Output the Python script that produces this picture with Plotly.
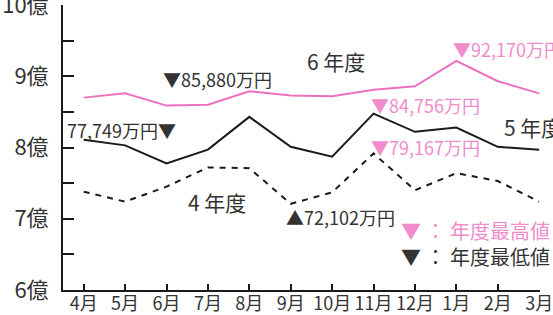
import plotly.graph_objects as go

months = ["4月", "5月", "6月", "7月", "8月", "9月", "10月", "11月", "12月", "1月", "2月", "3月"]
fy6 = [8.70, 8.76, 8.588, 8.60, 8.79, 8.73, 8.72, 8.81, 8.86, 9.217, 8.93, 8.76]
fy5 = [8.11, 8.03, 7.775, 7.97, 8.43, 8.01, 7.87, 8.476, 8.22, 8.28, 8.01, 7.97]
fy4 = [7.38, 7.24, 7.45, 7.72, 7.71, 7.21, 7.37, 7.917, 7.40, 7.64, 7.53, 7.24]

y_tickvals = [6, 6.5, 7, 7.5, 8, 8.5, 9, 9.5, 10]
y_ticktext = ["6億", "", "7億", "", "8億", "", "9億", "", "10億"]

PINK_LINE = "#ee6fbf"
PINK_TEXT = "#f08ccc"
DARK = "#333333"
FONT = "Noto Sans CJK JP"

x = list(range(len(months)))

fig = go.Figure()
fig.add_trace(go.Scatter(x=x, y=fy6, mode="lines", line=dict(color=PINK_LINE, width=2), showlegend=False))
fig.add_trace(go.Scatter(x=x, y=fy5, mode="lines", line=dict(color="#1a1a1a", width=2), showlegend=False))
fig.add_trace(go.Scatter(x=x, y=fy4, mode="lines", line=dict(color="#1a1a1a", width=2, dash="6px,6px"), showlegend=False))

ann = []
def label(xi, yv, text, color, xanchor, xshift, yshift, size=18):
    ann.append(dict(x=xi, y=yv, xref="x", yref="y", text=text, showarrow=False,
                    xanchor=xanchor, yanchor="middle", xshift=xshift, yshift=yshift,
                    font=dict(family=FONT, size=size, color=color)))

i6max = fy6.index(max(fy6)); i6min = fy6.index(min(fy6))
i5max = fy5.index(max(fy5)); i5min = fy5.index(min(fy5))
i4max = fy4.index(max(fy4)); i4min = fy4.index(min(fy4))

label(i6min, fy6[i6min], "▼85,880万円", DARK, "left", -6, 27)
label(i5min, fy5[i5min], "77,749万円▼", DARK, "right", 11, 34)
label(i6max, fy6[i6max], "▼92,170万円", PINK_TEXT, "left", -5, 12)
label(i5max, fy5[i5max], "▼84,756万円", PINK_TEXT, "left", -5, 9)
label(i4max, fy4[i4max], "▼79,167万円", PINK_TEXT, "left", -5, 6)
label(i4min, fy4[i4min], "▲72,102万円", DARK, "left", -7, -13)

# series names
label(6.1, 9.21, "6 年度", DARK, "center", 0, 0, 21)
label(10.1, 8.29, "5 年度", DARK, "left", 0, 0, 21)
label(3.23, 7.24, "4 年度", DARK, "center", 0, 0, 21)

# key
label(7.62, 6.84, "▼ ： 年度最高値", PINK_TEXT, "left", 0, 0, 20)
label(7.62, 6.47, "▼ ： 年度最低値", DARK, "left", 0, 0, 20)

fig.update_layout(
    width=553, height=315,
    margin=dict(l=63, r=13, t=5, b=25),
    paper_bgcolor="white", plot_bgcolor="white",
    annotations=ann,
    xaxis=dict(range=[-0.5, 11.02], tickvals=x, ticktext=months, ticks="inside", ticklen=6,
               tickwidth=2, tickcolor="#1a1a1a", showline=True, linecolor="#1a1a1a", linewidth=2,
               showgrid=False, zeroline=False, ticklabelstandoff=-4, ticklabeloverflow="allow",
               automargin=False,
               tickfont=dict(family=FONT, size=18, color=DARK)),
    yaxis=dict(range=[6, 10], tickvals=y_tickvals, ticktext=y_ticktext, ticks="inside", ticklen=11,
               tickwidth=2, tickcolor="#1a1a1a", showline=True, linecolor="#1a1a1a", linewidth=2,
               showgrid=False, zeroline=False, ticklabelstandoff=8, ticklabeloverflow="allow",
               automargin=False,
               tickfont=dict(family=FONT, size=22, color=DARK)),
)

fig.write_html("out.html", config={"displayModeBar": False},
               post_script="document.body.style.margin='0px';document.body.style.overflow='hidden';")
